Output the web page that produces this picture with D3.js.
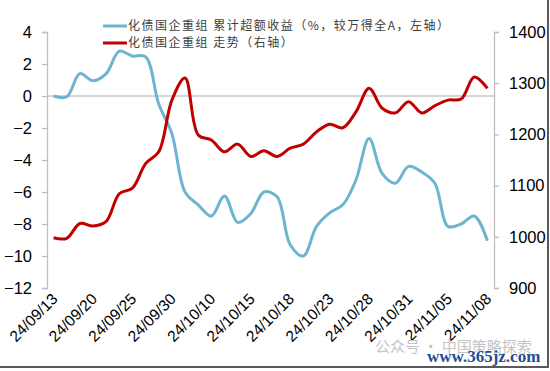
<!DOCTYPE html>
<html><head><meta charset="utf-8">
<script src="https://cdn.jsdelivr.net/npm/d3@7"></script>
<style>
html,body{margin:0;padding:0;background:#fff;}
svg{display:block;}
</style></head>
<body>
<svg id="c" width="550" height="371"></svg>
<script>
const dates = ["24/09/13","24/09/18","24/09/19","24/09/20","24/09/23","24/09/24","24/09/25","24/09/26","24/09/27","24/09/30",
"24/10/08","24/10/09","24/10/10","24/10/11","24/10/14","24/10/15","24/10/16","24/10/17","24/10/18","24/10/21",
"24/10/22","24/10/23","24/10/24","24/10/25","24/10/28","24/10/29","24/10/30","24/10/31","24/11/01","24/11/04",
"24/11/05","24/11/06","24/11/07","24/11/08"];
const excessReturn = [0.0,-0.05,1.4,0.95,1.4,2.8,2.5,2.45,-0.5,-2.35,
-6.0,-6.8,-7.5,-6.25,-7.9,-7.35,-6.0,-6.3,-9.3,-10.0,
-8.15,-7.3,-6.8,-5.25,-2.65,-4.85,-5.45,-4.4,-4.75,-5.45,
-8.15,-8.0,-7.5,-9.05];
const indexLevel = [998,997,1026,1021,1030,1084,1095,1143,1166,1267,
1310,1199,1189,1166,1181,1157,1168,1157,1173,1181,
1205,1220,1213,1244,1290,1251,1242,1264,1242,1256,
1267,1269,1312,1290];
const leftTicks = [4,2,0,-2,-4,-6,-8,-10,-12];
const rightTicks = [900,1000,1100,1200,1300,1400];
const tickLabels = ["24/09/13","24/09/20","24/09/25","24/09/30","24/10/10","24/10/15","24/10/18","24/10/23","24/10/28","24/10/31","24/11/05","24/11/08"];
const legendLabels = ["化债国企重组 累计超额收益（%，较万得全A，左轴）","化债国企重组 走势（右轴）"];

const svg = d3.select("#c");
const L = 47, R = 494, T = 32, B = 288;
const x = d3.scaleBand().domain(dates).range([L, R]);
const xc = d => x(d) + x.bandwidth()/2;
const yL = d3.scaleLinear().domain([-12,4]).range([B,T]);
const yR = d3.scaleLinear().domain([900,1400]).range([B,T]);

const axisColor = "#bfbfbf";
const font = "'Liberation Sans', Arial, sans-serif";

// left axis
const gl = svg.append("g").attr("transform",`translate(${L},0)`)
  .call(d3.axisLeft(yL).tickValues(leftTicks).tickSize(5).tickPadding(10).tickFormat(d3.format("d")));
gl.select(".domain").attr("stroke",axisColor).attr("stroke-width",1.3);
gl.selectAll(".tick line").attr("stroke",axisColor).attr("stroke-width",1.3);
gl.selectAll(".tick text").attr("font-family",font).attr("font-size",16.5).attr("fill","#000");

// right axis
const gr = svg.append("g").attr("transform",`translate(${R},0)`)
  .call(d3.axisRight(yR).tickValues(rightTicks).tickSize(5).tickPadding(10).tickFormat(d3.format("d")));
gr.select(".domain").attr("stroke",axisColor).attr("stroke-width",1.3);
gr.selectAll(".tick line").attr("stroke",axisColor).attr("stroke-width",1.3);
gr.selectAll(".tick text").attr("font-family",font).attr("font-size",16.5).attr("fill","#000");

// zero line (category axis)
svg.append("line").attr("x1",L).attr("x2",R).attr("y1",yL(0)).attr("y2",yL(0))
  .attr("stroke","#c8c8c8").attr("stroke-width",1.5);

// x labels
const xl = svg.append("g");
tickLabels.forEach(t => {
  xl.append("text")
    .attr("transform",`translate(${xc(t)+5},${B+12}) rotate(-45)`)
    .attr("text-anchor","end")
    .attr("font-family",font).attr("font-size",15.5).attr("fill","#000")
    .text(t);
});

// lines
const lineL = d3.line().x((d,i)=>xc(dates[i])).y(d=>yL(d)).curve(d3.curveCatmullRom);
const lineR = d3.line().x((d,i)=>xc(dates[i])).y(d=>yR(d)).curve(d3.curveCatmullRom);
svg.append("path").attr("d",lineL(excessReturn)).attr("fill","none").attr("stroke","#6cb4d0").attr("stroke-width",3);
svg.append("path").attr("d",lineR(indexLevel)).attr("fill","none").attr("stroke","#c00000").attr("stroke-width",3);

// legend
const legColors = ["#6cb4d0","#c00000"];
legendLabels.forEach((t,i) => {
  const yy = 26 + i*17;
  svg.append("line").attr("x1",103).attr("x2",127).attr("y1",yy).attr("y2",yy)
    .attr("stroke",legColors[i]).attr("stroke-width",3);
  svg.append("text").attr("x",128).attr("y",yy+4)
    .attr("font-family","'Noto Sans CJK SC', sans-serif").attr("font-size",12)
    .attr("fill","#404040").attr("letter-spacing",1.5).text(t);
});

// watermark
svg.append("text").attr("x",375).attr("y",352).attr("font-family","'Noto Sans CJK SC', sans-serif")
  .attr("font-size",15).attr("fill","#c4c4c4").text("公众号 · 中国策略探索");
svg.append("text").attr("x",427).attr("y",362).attr("font-family","'Liberation Serif', serif")
  .attr("font-size",17).attr("font-weight","bold").attr("fill","#1f4f96").text("www.365jz.com");

// frame border (right & bottom)
svg.append("line").attr("x1",548).attr("x2",548).attr("y1",0).attr("y2",368).attr("stroke","#595959").attr("stroke-width",2);
svg.append("line").attr("x1",0).attr("x2",549).attr("y1",367).attr("y2",367).attr("stroke","#595959").attr("stroke-width",2);
</script>
</body></html>
